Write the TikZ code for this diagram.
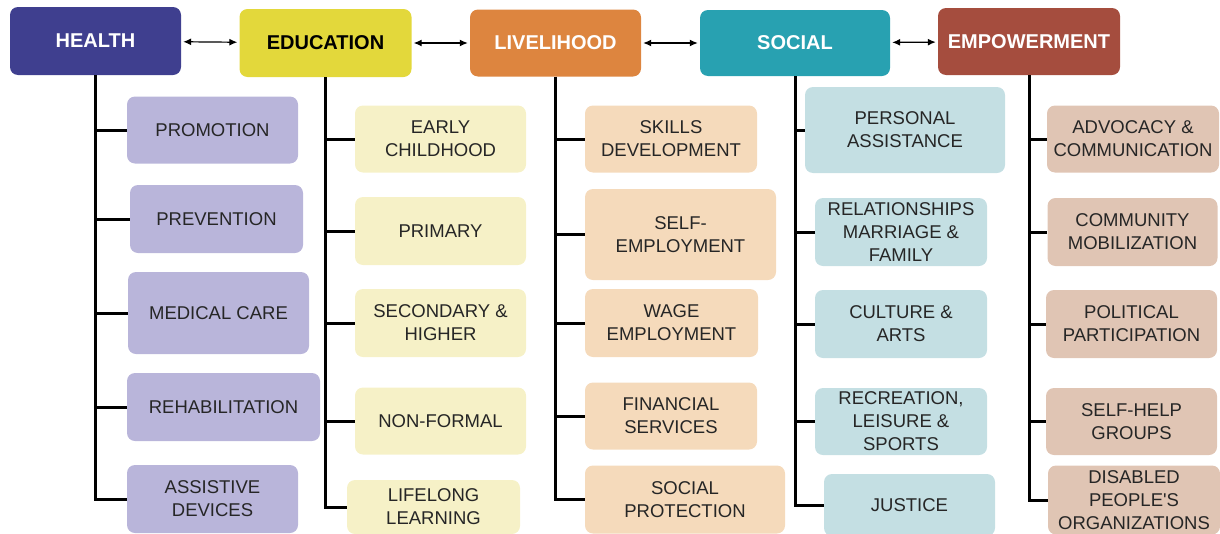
\documentclass[tikz,border=0pt]{standalone}
\usepackage{fontspec}
\setmainfont{Liberation Sans}
\usetikzlibrary{arrows.meta}

\definecolor{hlthDark}{HTML}{3F3F8F}
\definecolor{hlthLight}{HTML}{B9B5DA}
\definecolor{eduDark}{HTML}{E3D83B}
\definecolor{eduLight}{HTML}{F6F1C7}
\definecolor{liveDark}{HTML}{DD853F}
\definecolor{liveLight}{HTML}{F5DABB}
\definecolor{socDark}{HTML}{28A1B1}
\definecolor{socLight}{HTML}{C4DFE3}
\definecolor{empDark}{HTML}{A54D3E}
\definecolor{empLight}{HTML}{E0C5B4}
\definecolor{txtGray}{HTML}{262626}

\tikzset{
  box/.style 2 args={minimum width=#1, minimum height=#2},
  hdr/.style={rounded corners=8pt, inner sep=0pt, align=center,
    font=\fontsize{20}{24}\selectfont\bfseries, text=white},
  sub/.style={rounded corners=8pt, inner sep=0pt, align=center,
    font=\fontsize{18.5}{23}\selectfont, text=txtGray},
  hsub/.style={sub, fill=hlthLight},
  esub/.style={sub, fill=eduLight},
  lsub/.style={sub, fill=liveLight},
  ssub/.style={sub, fill=socLight},
  psub/.style={sub, fill=empLight},
  trunk/.style={line width=3pt},
  link/.style={{Latex[length=8pt,width=7pt]}-{Latex[length=8pt,width=7pt]},
    line width=1.2pt, shorten <=2pt, shorten >=2pt}
}

\begin{document}
\begin{tikzpicture}[x=1pt,y=-1pt]

\useasboundingbox (0,0) rectangle (1220,533);

%% Main areas
\node [hdr, fill=hlthDark, box={171pt}{68pt}] (health) at (95.5,41) {HEALTH};
\node [hdr, fill=eduDark, text=black, box={172pt}{68pt}] (educ) at (325.5,43) {EDUCATION};
\node [hdr, fill=liveDark, box={171pt}{67pt}] (livel) at (555.5,43) {LIVELIHOOD};
\node [hdr, fill=socDark, box={190pt}{66pt}] (social) at (795,43) {SOCIAL};
\node [hdr, fill=empDark, box={182pt}{67pt}] (empow) at (1029,41.5) {EMPOWERMENT};

\draw [link] (health) -- (educ);
\draw [link] (educ) -- (livel);
\draw [link] (livel) -- (social);
\draw [link] (social) -- (empow);

%% Health
\node [hsub, box={171pt}{67pt}] (hProm) at (212.5,130) {PROMOTION};
\node [hsub, box={173pt}{68pt}] (hPrev) at (216.5,219) {PREVENTION};
\node [hsub, box={181pt}{82pt}] (hMed) at (218.5,313) {MEDICAL CARE};
\node [hsub, box={193pt}{68pt}] (hRehab) at (223.5,407) {REHABILITATION};
\node [hsub, box={171pt}{68pt}] (hAssist) at (212.5,499) {ASSISTIVE\\DEVICES};

\draw [trunk] (health.south) |- (hAssist.west);
\draw [trunk] (health.south |- hProm.west) -- (hProm.west);
\draw [trunk] (health.south |- hPrev.west) -- (hPrev.west);
\draw [trunk] (health.south |- hMed.west) -- (hMed.west);
\draw [trunk] (health.south |- hRehab.west) -- (hRehab.west);

%% Education
\node [esub, box={171pt}{67pt}] (eEarly) at (440.5,139) {EARLY\\CHILDHOOD};
\node [esub, box={171pt}{68pt}] (ePrim) at (440.5,231) {PRIMARY};
\node [esub, box={171pt}{68pt}] (eSec) at (440.5,323) {SECONDARY \&\\HIGHER};
\node [esub, box={171pt}{67pt}] (eNon) at (440.5,421) {NON-FORMAL};
\node [esub, box={173pt}{54pt}] (eLife) at (433.5,507) {LIFELONG\\LEARNING};

\draw [trunk] (educ.south) |- (eLife.west);
\draw [trunk] (educ.south |- eEarly.west) -- (eEarly.west);
\draw [trunk] (educ.south |- ePrim.west) -- (ePrim.west);
\draw [trunk] (educ.south |- eSec.west) -- (eSec.west);
\draw [trunk] (educ.south |- eNon.west) -- (eNon.west);

%% Livelihood
\node [lsub, box={172pt}{67pt}] (lSkill) at (671,139) {SKILLS\\DEVELOPMENT};
\node [lsub, box={191pt}{91pt}] (lSelf) at (680.5,234.5) {SELF-\\EMPLOYMENT};
\node [lsub, box={173pt}{68pt}] (lWage) at (671.5,323) {WAGE\\EMPLOYMENT};
\node [lsub, box={172pt}{67pt}] (lFin) at (671,416) {FINANCIAL\\SERVICES};
\node [lsub, box={200pt}{68pt}] (lProt) at (685,499.5) {SOCIAL\\PROTECTION};

\draw [trunk] (livel.south) |- (lProt.west);
\draw [trunk] (livel.south |- lSkill.west) -- (lSkill.west);
\draw [trunk] (livel.south |- lSelf.west) -- (lSelf.west);
\draw [trunk] (livel.south |- lWage.west) -- (lWage.west);
\draw [trunk] (livel.south |- lFin.west) -- (lFin.west);

%% Social
\node [ssub, box={200pt}{86pt}] (sPers) at (905,130) {PERSONAL\\ASSISTANCE};
\node [ssub, box={172pt}{68pt}] (sRel) at (901,232) {RELATIONSHIPS\\MARRIAGE \&\\FAMILY};
\node [ssub, box={172pt}{68pt}] (sCult) at (901,324) {CULTURE \&\\ARTS};
\node [ssub, box={172pt}{67pt}] (sRec) at (901,421.5) {RECREATION,\\LEISURE \&\\SPORTS};
\node [ssub, box={171pt}{62pt}] (sJust) at (909.5,505) {JUSTICE};

\draw [trunk] (social.south) |- (sJust.west);
\draw [trunk] (social.south |- sPers.west) -- (sPers.west);
\draw [trunk] (social.south |- sRel.west) -- (sRel.west);
\draw [trunk] (social.south |- sCult.west) -- (sCult.west);
\draw [trunk] (social.south |- sRec.west) -- (sRec.west);

%% Empowerment
\node [psub, box={172pt}{67pt}] (pAdv) at (1133,139) {ADVOCACY \&\\COMMUNICATION};
\node [psub, box={170pt}{68pt}] (pComm) at (1132.5,232) {COMMUNITY\\MOBILIZATION};
\node [psub, box={171pt}{68pt}] (pPol) at (1131.5,324) {POLITICAL\\PARTICIPATION};
\node [psub, box={171pt}{67pt}] (pSelf) at (1131.5,421.5) {SELF-HELP\\GROUPS};
\node [psub, box={172pt}{69pt}] (pDpo) at (1134,500) {DISABLED\\PEOPLE\textquotesingle S\\ORGANIZATIONS};

\draw [trunk] (empow.south) |- (pDpo.west);
\draw [trunk] (empow.south |- pAdv.west) -- (pAdv.west);
\draw [trunk] (empow.south |- pComm.west) -- (pComm.west);
\draw [trunk] (empow.south |- pPol.west) -- (pPol.west);
\draw [trunk] (empow.south |- pSelf.west) -- (pSelf.west);

\end{tikzpicture}
\end{document}
